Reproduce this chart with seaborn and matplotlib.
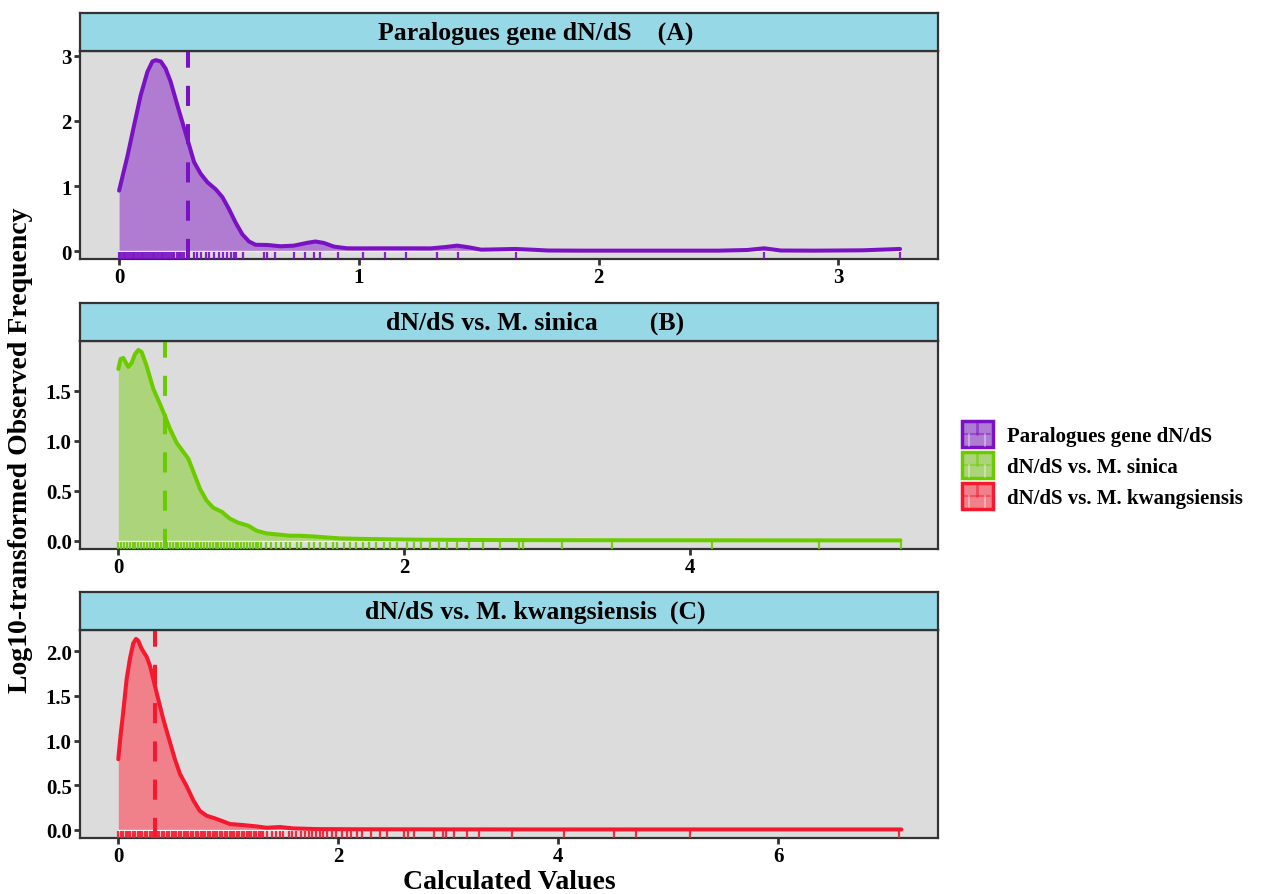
import matplotlib
matplotlib.use("Agg")
import matplotlib.pyplot as plt
import seaborn as sns
from matplotlib.legend_handler import HandlerBase
from matplotlib.patches import Rectangle, Patch
from matplotlib.lines import Line2D

# ---------------- data ----------------
titles = ["Paralogues gene dN/dS    (A)",
          "dN/dS vs. M. sinica        (B)",
          "dN/dS vs. M. kwangsiensis  (C)"]
legend_labels = ["Paralogues gene dN/dS", "dN/dS vs. M. sinica", "dN/dS vs. M. kwangsiensis"]

a_x = [0, 0.035, 0.0625, 0.090, 0.118, 0.139, 0.153, 0.174, 0.194, 0.215, 0.243, 0.271, 0.292,
       0.3125, 0.340, 0.368, 0.403, 0.431, 0.458, 0.486, 0.514, 0.542, 0.569, 0.618, 0.674, 0.729,
       0.785, 0.819, 0.854, 0.896, 0.951, 1.0, 1.1, 1.2, 1.3, 1.36, 1.41, 1.46, 1.51, 1.58, 1.65,
       1.72, 1.79, 1.93, 2.1, 2.3, 2.5, 2.62, 2.69, 2.76, 2.9, 3.1, 3.257]
a_y = [0.93, 1.46, 1.93, 2.39, 2.75, 2.91, 2.93, 2.91, 2.80, 2.60, 2.24, 1.89, 1.63,
       1.37, 1.19, 1.06, 0.95, 0.83, 0.65, 0.44, 0.26, 0.15, 0.10, 0.097, 0.077, 0.087,
       0.13, 0.15, 0.128, 0.072, 0.046, 0.045, 0.046, 0.046, 0.045, 0.065, 0.087, 0.06, 0.025, 0.03, 0.036,
       0.025, 0.012, 0.01, 0.01, 0.01, 0.01, 0.02, 0.046, 0.012, 0.01, 0.015, 0.036]
a_rug = [0.0, 0.005, 0.012, 0.02, 0.026, 0.034, 0.041, 0.05, 0.058, 0.063, 0.071, 0.08, 0.086,
         0.094, 0.101, 0.11, 0.117, 0.124, 0.132, 0.14, 0.147, 0.155, 0.162, 0.17, 0.178, 0.185,
         0.193, 0.2, 0.208, 0.216, 0.223, 0.231, 0.24, 0.248, 0.255, 0.262, 0.27, 0.3125, 0.326,
         0.34, 0.361, 0.375, 0.396, 0.417, 0.435, 0.451, 0.465, 0.479, 0.486, 0.518, 0.604, 0.618,
         0.649, 0.729, 0.774, 0.8125, 0.8375, 0.9125, 1.018, 1.111, 1.195, 1.327, 1.414, 1.656,
         2.69, 3.257]
a_mean = 0.2875

b_x = [0, 0.016, 0.035, 0.054, 0.07, 0.093, 0.117, 0.14, 0.163, 0.198, 0.245, 0.291, 0.326, 0.361,
       0.408, 0.49, 0.536, 0.571, 0.618, 0.664, 0.723, 0.781, 0.839, 0.909, 0.967, 1.037, 1.13, 1.2,
       1.27, 1.364, 1.457, 1.55, 1.737, 2.09, 2.5, 3.0, 4.0, 5.0, 5.47]
b_y = [1.72, 1.82, 1.83, 1.78, 1.74, 1.78, 1.87, 1.91, 1.89, 1.75, 1.52, 1.37, 1.25, 1.12,
       0.98, 0.82, 0.65, 0.52, 0.40, 0.33, 0.29, 0.22, 0.18, 0.15, 0.10, 0.073, 0.06, 0.05,
       0.05, 0.043, 0.033, 0.023, 0.017, 0.01, 0.007, 0.005, 0.004, 0.003, 0.003]
b_rug = [0.0, 0.02, 0.04, 0.06, 0.08, 0.1, 0.12, 0.14, 0.16, 0.18, 0.2, 0.22, 0.24, 0.26, 0.28,
         0.3, 0.32, 0.34, 0.36, 0.38, 0.4, 0.42, 0.44, 0.46, 0.48, 0.5, 0.52, 0.54, 0.56, 0.58,
         0.6, 0.62, 0.64, 0.66, 0.68, 0.7, 0.72, 0.74, 0.76, 0.78, 0.8, 0.82, 0.84, 0.86, 0.88,
         0.9, 0.92, 0.94, 0.96, 0.98, 1.0, 1.03, 1.07, 1.1, 1.14, 1.17, 1.2, 1.25, 1.28, 1.33,
         1.37, 1.41, 1.45, 1.5, 1.53, 1.58, 1.62, 1.66, 1.71, 1.75, 1.8, 1.86, 1.9, 1.95, 2.02,
         2.07, 2.12, 2.18, 2.24, 2.3, 2.37, 2.45, 2.55, 2.67, 2.8, 2.83, 3.1, 3.45, 4.15, 4.9, 5.47]
b_mean = 0.327

c_x = [0, 0.021, 0.045, 0.076, 0.106, 0.136, 0.161, 0.182, 0.212, 0.258, 0.288, 0.318, 0.348,
       0.409, 0.47, 0.515, 0.561, 0.621, 0.682, 0.742, 0.803, 0.879, 0.939, 1.015, 1.136, 1.258,
       1.348, 1.47, 1.59, 1.80, 2.2, 3.0, 4.0, 5.0, 6.0, 7.12]
c_y = [0.79, 1.06, 1.32, 1.69, 1.92, 2.09, 2.14, 2.12, 2.03, 1.94, 1.84, 1.69, 1.54,
       1.24, 0.98, 0.79, 0.625, 0.49, 0.33, 0.21, 0.157, 0.127, 0.10, 0.064, 0.052, 0.037,
       0.022, 0.03, 0.015, 0.007, 0.005, 0.004, 0.003, 0.003, 0.003, 0.003]
c_rug = [0.0, 0.022, 0.044, 0.066, 0.088, 0.11, 0.132, 0.154, 0.176, 0.198, 0.22, 0.242, 0.264,
         0.286, 0.308, 0.33, 0.352, 0.374, 0.396, 0.418, 0.44, 0.462, 0.484, 0.506, 0.528, 0.55,
         0.572, 0.594, 0.616, 0.638, 0.66, 0.682, 0.704, 0.726, 0.748, 0.77, 0.792, 0.814, 0.836,
         0.858, 0.88, 0.902, 0.924, 0.946, 0.968, 0.99, 1.012, 1.034, 1.056, 1.078, 1.1, 1.122,
         1.144, 1.166, 1.188, 1.21, 1.232, 1.254, 1.276, 1.298, 1.32, 1.35, 1.4, 1.43, 1.47, 1.5,
         1.55, 1.58, 1.62, 1.66, 1.7, 1.73, 1.76, 1.8, 1.83, 1.86, 1.9, 1.94, 1.98, 2.03, 2.08,
         2.12, 2.17, 2.22, 2.3, 2.38, 2.44, 2.6, 2.63, 2.69, 2.87, 2.95, 2.98, 3.05, 3.17, 3.28,
         3.58, 4.05, 4.51, 4.71, 5.2, 7.1]
c_mean = 0.334

xs = [a_x, b_x, c_x]
ys = [a_y, b_y, c_y]
rugs = [a_rug, b_rug, c_rug]
means = [a_mean, b_mean, c_mean]

x_ticks = [[0, 1, 2, 3], [0, 2, 4], [0, 2, 4, 6]]
y_ticks = [[0, 1, 2, 3], [0.0, 0.5, 1.0, 1.5], [0.0, 0.5, 1.0, 1.5, 2.0]]
y_ticklabels = [["0", "1", "2", "3"], ["0.0", "0.5", "1.0", "1.5"], ["0.0", "0.5", "1.0", "1.5", "2.0"]]

# ---------------- style ----------------
line_cols = ["#7A12C4", "#6CCB00", "#F5192F"]
fill_cols = ["#B07CD2", "#ACD47A", "#F0808A"]
xlims = [(-0.163, 3.414), (-0.268, 5.73), (-0.348, 7.45)]
ylims = [(-0.118, 3.07), (-0.083, 2.0), (-0.093, 2.24)]

sns.set_style("white")
plt.rcParams["font.family"] = ["Liberation Serif", "DejaVu Serif"]
plt.rcParams["font.weight"] = "bold"
plt.rcParams["text.color"] = "black"
plt.rcParams["xtick.color"] = "#333333"
plt.rcParams["ytick.color"] = "#333333"

W, H = 1266, 895
fig = plt.figure(figsize=(W / 100, H / 100), dpi=100)

panel_tops = [52, 342, 631]
panel_h = 208
strip_h = 38
left, right = 80, 937.7
edge = "#333333"

for i in range(3):
    top = panel_tops[i]
    ax = fig.add_axes([left / W, 1 - (top + panel_h) / H, (right - left) / W, panel_h / H])
    ax.set_facecolor("#DCDCDC")
    ax.fill_between(xs[i], 0, ys[i], color=fill_cols[i], lw=0, zorder=1)
    ax.plot([0, xs[i][-1]], [0, 0], color="white", lw=1.0, alpha=0.8, zorder=2)
    sns.lineplot(x=xs[i], y=ys[i], ax=ax, color=line_cols[i], lw=2.9, zorder=3,
                 solid_capstyle="round", solid_joinstyle="round")
    sns.rugplot(x=rugs[i], ax=ax, height=0.032, color=line_cols[i], linewidth=1.6,
                alpha=0.9, expand_margins=False, zorder=4)
    ax.axvline(means[i], color=line_cols[i], lw=2.9, dashes=(5, 4.5), zorder=5)
    ax.set_xlim(*xlims[i])
    ax.set_ylim(*ylims[i])
    ax.set_xticks(x_ticks[i])
    ax.set_xticklabels([str(t) for t in x_ticks[i]])
    ax.set_yticks(y_ticks[i])
    ax.set_yticklabels(y_ticklabels[i])
    ax.tick_params(axis="both", direction="out", length=4, width=2, color=edge,
                   bottom=True, left=True, labelsize=15, labelcolor="black", pad=2)
    for lab in ax.get_xticklabels() + ax.get_yticklabels():
        lab.set_fontweight("bold")
    for s in ax.spines.values():
        s.set_color(edge)
        s.set_linewidth(1.6)
    ax.set_xlabel("")
    ax.set_ylabel("")

    sax = fig.add_axes([left / W, 1 - top / H, (right - left) / W, strip_h / H])
    sax.set_facecolor("#96D8E6")
    sax.set_xticks([])
    sax.set_yticks([])
    for s in sax.spines.values():
        s.set_color(edge)
        s.set_linewidth(1.6)
    sax.text(0.531, 0.5, titles[i], ha="center", va="center", fontsize=18.5,
             fontweight="bold", color="black", transform=sax.transAxes)

fig.text(21 / W, 1 - 450 / H, "Log10-transformed Observed Frequency", rotation=90,
         ha="center", va="center", fontsize=20, fontweight="bold", color="black")
fig.text(509.5 / W, 1 - 883 / H, "Calculated Values", ha="center", va="center",
         fontsize=20, fontweight="bold", color="black")


class KeyHandler(HandlerBase):
    def create_artists(self, legend, orig, xd, yd, w, h, fontsize, trans):
        ec = orig.get_edgecolor()
        fc = orig.get_facecolor()
        x0, y0 = -xd, -yd
        rect = Rectangle((x0, y0), w, h, fc=fc, ec=ec, lw=2.5, transform=trans)
        light = (1, 1, 1, 0.35)
        l1 = Line2D([x0 + w / 2] * 2, [y0 + h * 0.5, y0 + h - 1], color=ec, lw=2.0,
                    alpha=0.55, transform=trans)
        l2 = Line2D([x0 + 2, x0 + w - 2], [y0 + h * 0.5] * 2, color=ec, lw=1.5,
                    alpha=0.45, transform=trans)
        l3 = Line2D([x0 + w * 0.25] * 2, [y0 + 1, y0 + h * 0.5], color=light, lw=1.5,
                    transform=trans)
        l4 = Line2D([x0 + w * 0.75] * 2, [y0 + 1, y0 + h * 0.5], color=light, lw=1.5,
                    transform=trans)
        return [rect, l1, l2, l3, l4]


handles = [Patch(facecolor=fill_cols[i], edgecolor=line_cols[i]) for i in range(3)]
fig.legend(handles, legend_labels, handler_map={Patch: KeyHandler()},
           loc="center left", bbox_to_anchor=(947 / W, 1 - 466 / H), frameon=False,
           prop={"size": 15, "weight": "bold"}, handlelength=1.5, handleheight=1.55,
           handletextpad=0.7, labelspacing=0.22, borderpad=0.2)

fig.savefig("out.png", dpi=100)
